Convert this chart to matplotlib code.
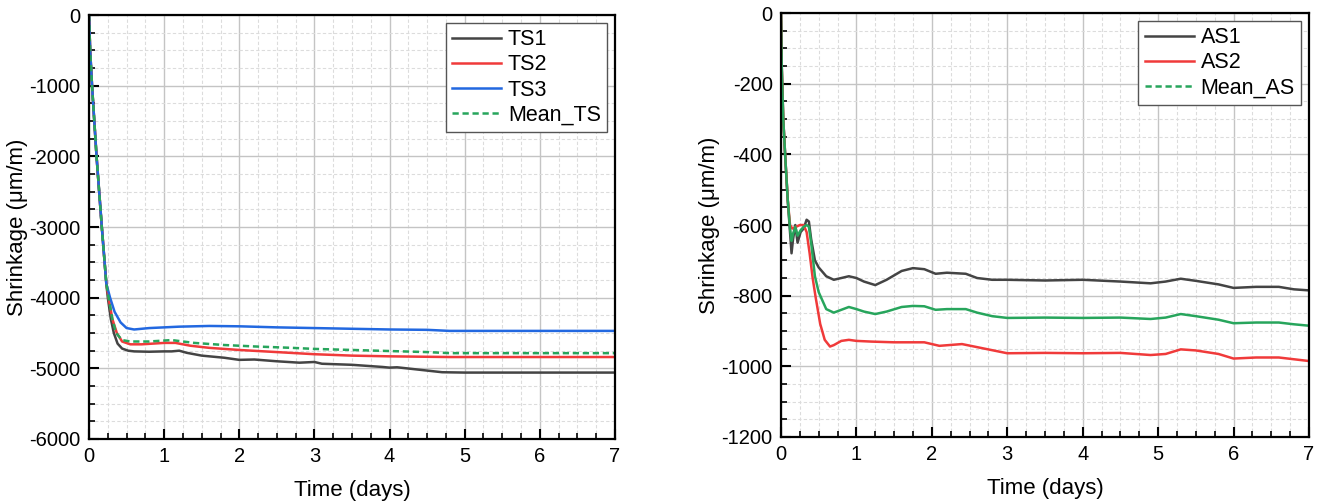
import numpy as np
import matplotlib.pyplot as plt
from matplotlib.ticker import MultipleLocator
from matplotlib.lines import Line2D

plt.rcParams["font.family"] = ["Liberation Sans", "DejaVu Sans"]
plt.rcParams["axes.unicode_minus"] = False

# --------------------------------------------------
# Total shrinkage (left panel)
# --------------------------------------------------
ts1_t = [0, 0.015, 0.04, 0.10, 0.17, 0.23, 0.25, 0.29, 0.33, 0.38, 0.44, 0.52, 0.6, 0.8,
         1.0, 1.1, 1.2, 1.3, 1.5, 1.8, 2.0, 2.2, 2.5, 2.8, 3.0, 3.1, 3.5, 3.9, 4.0, 4.1,
         4.4, 4.7, 5.0, 6.0, 7.0]
ts1 = [0, -500, -1000, -2000, -3000, -3800, -4000, -4300, -4500, -4650, -4720, -4750,
       -4760, -4765, -4760, -4760, -4750, -4780, -4820, -4850, -4880, -4875, -4900,
       -4920, -4910, -4935, -4950, -4980, -4990, -4985, -5020, -5055, -5060, -5060, -5060]

ts2_t = [0, 0.015, 0.04, 0.10, 0.17, 0.23, 0.26, 0.31, 0.37, 0.44, 0.55, 0.7, 1.0, 1.15,
         1.35, 1.6, 2.0, 2.5, 3.0, 3.5, 4.0, 4.8, 7.0]
ts2 = [0, -500, -1000, -2000, -3000, -3800, -4000, -4300, -4500, -4620, -4660, -4660,
       -4640, -4640, -4680, -4710, -4740, -4770, -4800, -4820, -4830, -4840, -4840]

ts3_t = [0, 0.015, 0.04, 0.10, 0.17, 0.23, 0.28, 0.34, 0.42, 0.5, 0.6, 0.8, 1.2, 1.6,
         2.0, 2.5, 3.0, 3.5, 4.0, 4.5, 4.8, 7.0]
ts3 = [0, -500, -1000, -2000, -3000, -3800, -4000, -4200, -4350, -4430, -4450, -4430,
       -4410, -4400, -4405, -4420, -4430, -4440, -4450, -4455, -4470, -4470]

mean_ts_t = [0, 0.015, 0.04, 0.10, 0.17, 0.23, 0.26, 0.31, 0.36, 0.44, 0.55, 0.8, 1.1,
             1.4, 1.8, 2.2, 2.7, 3.0, 3.5, 4.0, 4.5, 4.8, 7.0]
mean_ts = [0, -500, -1000, -2000, -3000, -3800, -4000, -4300, -4500, -4600, -4620,
           -4620, -4600, -4640, -4670, -4690, -4710, -4725, -4740, -4755, -4770, -4785, -4785]

# --------------------------------------------------
# Autogenous shrinkage (right panel)
# --------------------------------------------------
as_t = [0, 0.01, 0.03, 0.06, 0.09, 0.12, 0.14, 0.16, 0.19, 0.22, 0.26, 0.3, 0.34, 0.37,
        0.4, 0.45, 0.5, 0.6, 0.7, 0.8, 0.9, 1.0, 1.1, 1.25, 1.4, 1.6, 1.75, 1.9, 2.05,
        2.2, 2.45, 2.6, 2.8, 3.0, 3.5, 4.0, 4.5, 4.9, 5.1, 5.3, 5.5, 5.8, 6.0, 6.3, 6.6,
        6.8, 7.0]
as1 = [0, -150, -300, -420, -530, -620, -680, -640, -600, -650, -620, -610, -585, -590,
       -640, -700, -720, -745, -755, -750, -745, -750, -760, -770, -755, -730, -722, -725,
       -738, -735, -738, -750, -755, -755, -757, -755, -760, -765, -760, -752, -758, -768,
       -778, -775, -775, -782, -785]
mean_as = [0, -150, -300, -420, -530, -610, -645, -625, -605, -630, -615, -605, -600,
           -605, -650, -745, -790, -838, -848, -840, -832, -838, -845, -852, -845, -832,
           -829, -830, -840, -838, -838, -848, -858, -863, -862, -863, -862, -866, -862,
           -852, -858, -868, -878, -876, -876, -881, -885]

as2_t = [0, 0.01, 0.03, 0.06, 0.09, 0.12, 0.15, 0.2, 0.25, 0.3, 0.34, 0.38, 0.42, 0.46,
         0.52, 0.58, 0.65, 0.7, 0.8, 0.9, 1.0, 1.2, 1.5, 1.9, 2.1, 2.4, 2.7, 3.0, 3.5,
         4.0, 4.5, 4.9, 5.1, 5.3, 5.5, 5.8, 6.0, 6.3, 6.6, 6.8, 7.0]
as2 = [0, -150, -300, -420, -530, -600, -610, -605, -600, -600, -620, -680, -750, -805,
       -880, -925, -944, -940, -928, -925, -928, -930, -932, -932, -942, -937, -950, -963,
       -962, -963, -962, -968, -965, -952, -955, -965, -978, -975, -975, -980, -985]

c_black = "#444444"
c_red = "#f03a3a"
c_blue = "#2268e0"
c_green = "#27a55c"

fig = plt.figure(figsize=(13.21, 5.04), dpi=100)
ax1 = fig.add_axes([0.0674, 0.129, 0.3981, 0.841])
ax2 = fig.add_axes([0.5912, 0.133, 0.3997, 0.841])


def style_axes(ax, ymin, ymajor, yminor):
    ax.set_xlim(0, 7)
    ax.set_ylim(ymin, 0)
    ax.xaxis.set_major_locator(MultipleLocator(1))
    ax.xaxis.set_minor_locator(MultipleLocator(0.25))
    ax.yaxis.set_major_locator(MultipleLocator(ymajor))
    ax.yaxis.set_minor_locator(MultipleLocator(yminor))
    ax.grid(which="major", color="#c4c4c4", linewidth=1.0)
    ax.grid(which="minor", color="#dcdcdc", linewidth=0.8, linestyle=(0, (3, 2)))
    ax.set_axisbelow(True)
    for s in ax.spines.values():
        s.set_linewidth(1.6)
    ax.tick_params(which="major", direction="in", length=7, width=1.5,
                   labelsize=14.5, pad=6)
    ax.tick_params(which="minor", direction="in", length=4, width=1.2)
    ax.set_xlabel("Time (days)", fontsize=16, labelpad=10)
    ax.set_ylabel("Shrinkage (\u03bcm/m)", fontsize=16, labelpad=1)


# Left panel
ax1.plot(ts1_t, ts1, color=c_black, lw=1.8, label="TS1")
ax1.plot(ts2_t, ts2, color=c_red, lw=1.8, label="TS2")
ax1.plot(ts3_t, ts3, color=c_blue, lw=1.8, label="TS3")
ax1.plot(mean_ts_t, mean_ts, color=c_green, lw=1.8, linestyle=(0, (2.5, 1.5)),
         label="Mean_TS")
style_axes(ax1, -6000, 1000, 250)
ax1.legend(loc="upper right", fontsize=15.5, frameon=True, fancybox=False,
           edgecolor="#555555", framealpha=1, handlelength=2.3, handletextpad=0.3,
           labelspacing=0.2, borderpad=0.3, borderaxespad=0.35)

# Right panel
ax2.plot(as_t, as1, color=c_black, lw=1.8)
ax2.plot(as2_t, as2, color=c_red, lw=1.8)
ax2.plot(as_t, mean_as, color=c_green, lw=1.8)
style_axes(ax2, -1200, 200, 50)
handles = [
    Line2D([], [], color=c_black, lw=1.8),
    Line2D([], [], color=c_red, lw=1.8),
    Line2D([], [], color=c_green, lw=1.8, linestyle=(0, (2.5, 1.5))),
]
ax2.legend(handles, ["AS1", "AS2", "Mean_AS"], loc="upper right", fontsize=15.5,
           frameon=True, fancybox=False, edgecolor="#555555", framealpha=1,
           handlelength=2.3, handletextpad=0.3, labelspacing=0.2, borderpad=0.3,
           borderaxespad=0.35)

fig.savefig("out.png", dpi=100)
